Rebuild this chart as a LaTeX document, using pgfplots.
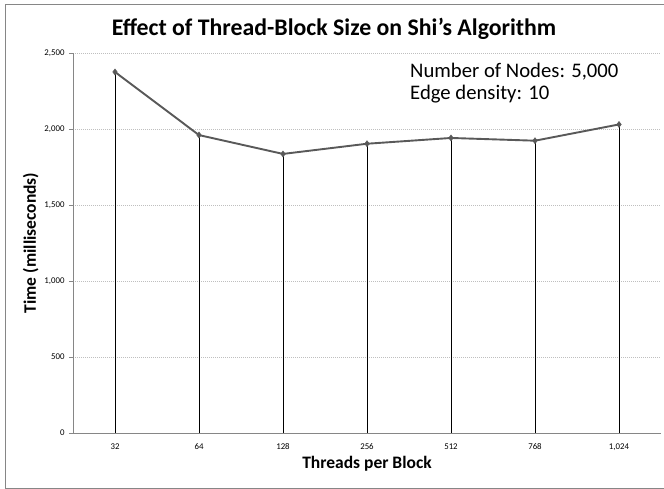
\documentclass[border=0pt]{standalone}
\usepackage{pgfplots}
\pgfplotsset{compat=1.18}
\usepackage{fontspec}
\setmainfont{Carlito}
\definecolor{linegray}{HTML}{595959}
\definecolor{axgray}{HTML}{868686}
\definecolor{gridgray}{HTML}{BFBFBF}
\begin{document}
\begin{tikzpicture}[x=1pt,y=1pt]
\begin{axis}[
  scale only axis, width=588pt, height=380pt,
  xmin=-0.5, xmax=6.5, ymin=0, ymax=2500,
  xtick={0,1,2,3,4,5,6},
  xticklabels={32,64,128,256,512,768,{1,024}},
  ytick={0,500,1000,1500,2000,2500},
  axis lines*=left,
  axis line style={axgray, line width=0.8pt},
  x axis line style={-},
  y axis line style={-},
  ymajorgrids,
  grid style={gridgray, dash pattern=on 1pt off 1pt, line width=0.6pt},
  tick align=outside,
  major tick length=4pt,
  ytick style={axgray, line width=0.6pt},
  xtick style={draw=none},
  tick label style={font=\fontsize{8.8}{10}\selectfont},
  /pgf/number format/assume math mode=true,
  /pgf/number format/1000 sep={,},
  yticklabel style={xshift=-1pt},
  xticklabel style={yshift=-3pt},
  xlabel={Threads per Block},
  ylabel={Time (milliseconds)},
  label style={font=\bfseries\fontsize{17.5}{20}\selectfont},
  xlabel style={yshift=1pt},
  ylabel style={yshift=-1pt},
  clip=false,
]
\addplot[ycomb, black, line width=0.75pt, mark=none] coordinates {
(0,2375) (1,1960) (2,1836) (3,1903) (4,1941) (5,1923) (6,2030)};
\addplot[linegray, line width=1.9pt, mark=diamond*, mark size=3pt, mark options={fill=linegray, line width=0.5pt}] coordinates {
(0,2375) (1,1960) (2,1836) (3,1903) (4,1941) (5,1923) (6,2030)};
\coordinate (bl) at (rel axis cs:0,0);
\end{axis}
\begin{scope}[shift={(bl)}, xshift=-73pt, yshift=-56pt]
\pgfresetboundingbox
\useasboundingbox (0,0) rectangle (664,489);
\draw[axgray, line width=0.8pt] (5,1) rectangle (670,485);
\node[font=\bfseries\fontsize{23.8}{28}\selectfont, anchor=base] at (334,453) {Effect of Thread-Block Size on Shi's Algorithm};
\node[anchor=base west, inner xsep=0pt, font=\fontsize{20.7}{24}\selectfont] at (410,411.3) {Number of Nodes: 5,000};
\node[anchor=base west, inner xsep=0pt, font=\fontsize{20.7}{24}\selectfont] at (410,389) {Edge density: 10};
\end{scope}
\end{tikzpicture}
\end{document}
